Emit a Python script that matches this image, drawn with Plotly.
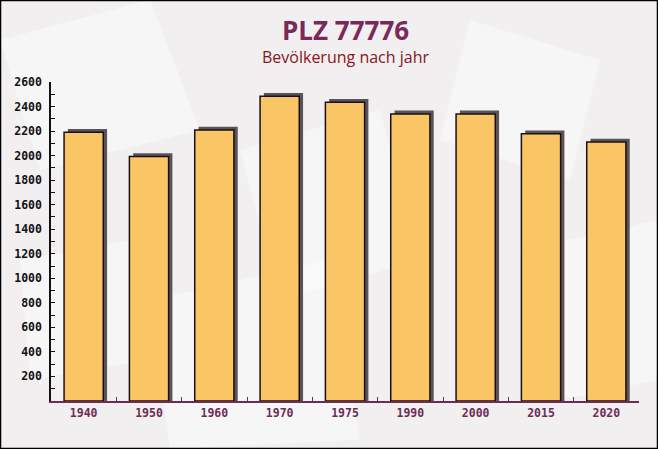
import plotly.graph_objects as go

years = ["1940", "1950", "1960", "1970", "1975", "1990", "2000", "2015", "2020"]
population = [2190, 1993, 2208, 2484, 2435, 2340, 2340, 2178, 2110]
y_ticks = [200, 400, 600, 800, 1000, 1200, 1400, 1600, 1800, 2000, 2200, 2400, 2600]

W, H = 658, 449
M_L, M_R, M_T, M_B = 51, 19, 82, 48
Y_MAX = 2600
plot_h = H - M_T - M_B
plot_w = W - M_L - M_R
units_per_px = Y_MAX / plot_h
cat_px = plot_w / len(years)
bar_w = 0.6
dx = 3.8 / cat_px
dy = 3.3 * units_per_px

def px_x(px):
    return (px - M_L) / plot_w

def px_y(px_from_top):
    return (H - M_B - px_from_top) / plot_h

fig = go.Figure()
# shadow ("3D" depth)
fig.add_trace(go.Bar(
    x=years, y=[v + dy for v in population],
    width=bar_w, offset=-bar_w / 2 + dx,
    marker=dict(color="#5a545a", line=dict(width=0)),
    hoverinfo="skip", showlegend=False,
))
fig.add_trace(go.Bar(
    x=years, y=population,
    width=bar_w, offset=-bar_w / 2,
    marker=dict(color="#fac665", line=dict(color="#1a1014", width=1.5)),
    showlegend=False,
))

# faint decorative background panels (envelope-like pattern)
deco = [
    [(0, 40), (150, 0), (200, 130), (40, 170)],
    [(240, 150), (380, 110), (420, 260), (280, 300)],
    [(470, 20), (600, 60), (570, 180), (440, 140)],
    [(150, 300), (330, 260), (360, 440), (170, 449)],
    [(520, 250), (658, 220), (658, 380), (560, 400)],
    [(20, 260), (130, 240), (150, 360), (30, 380)],
]
shapes = []
for poly in deco:
    path = "M " + " L ".join(f"{px_x(x):.4f},{px_y(y):.4f}" for x, y in poly) + " Z"
    shapes.append(dict(type="path", xref="paper", yref="paper", path=path,
                       fillcolor="rgba(255,255,255,0.45)", line=dict(width=0), layer="below"))
shapes.append(dict(type="rect", xref="paper", yref="paper",
                   x0=px_x(0.5), x1=px_x(W - 0.5), y0=px_y(H - 0.5), y1=px_y(0.5),
                   line=dict(color="#000000", width=1.5), layer="above"))

fig.update_layout(
    width=W, height=H,
    margin=dict(l=M_L, r=M_R, t=M_T, b=M_B),
    paper_bgcolor="#f1eff0",
    plot_bgcolor="rgba(0,0,0,0)",
    barmode="overlay",
    xaxis=dict(
        type="category",
        showgrid=False, zeroline=False,
        showline=True, linecolor="#6e2c55", linewidth=1.5,
        ticks="inside", ticklen=4, tickcolor="#6e2c55", tickson="boundaries",
        tickfont=dict(family="DejaVu Sans Mono", size=11.5, color="#6e2c55", weight="bold"),
        range=[-0.5, len(years) - 0.5],
    ),
    yaxis=dict(
        range=[0, Y_MAX],
        tickvals=y_ticks,
        showgrid=False, zeroline=False,
        showline=True, linecolor="#111111", linewidth=1.5,
        ticks="inside", ticklen=4, tickcolor="#111111",
        minor=dict(dtick=100, ticks="inside", ticklen=4, tickcolor="#111111"),
        tickfont=dict(family="DejaVu Sans Mono", size=11.5, color="#111111", weight="bold"),
        ticklabelstandoff=5,
    ),
    annotations=[
        dict(text="<b>PLZ 77776</b>", x=0.5, y=px_y(30), yanchor="middle",
             xref="paper", yref="paper", showarrow=False,
             font=dict(family="Open Sans", size=26, color="#7a2a58")),
        dict(text="Bevölkerung nach jahr", x=0.5, y=px_y(57), yanchor="middle",
             xref="paper", yref="paper", showarrow=False,
             font=dict(family="Open Sans", size=16, color="#8a1420")),
    ],
    shapes=shapes,
)

fig.write_html("out.html")
